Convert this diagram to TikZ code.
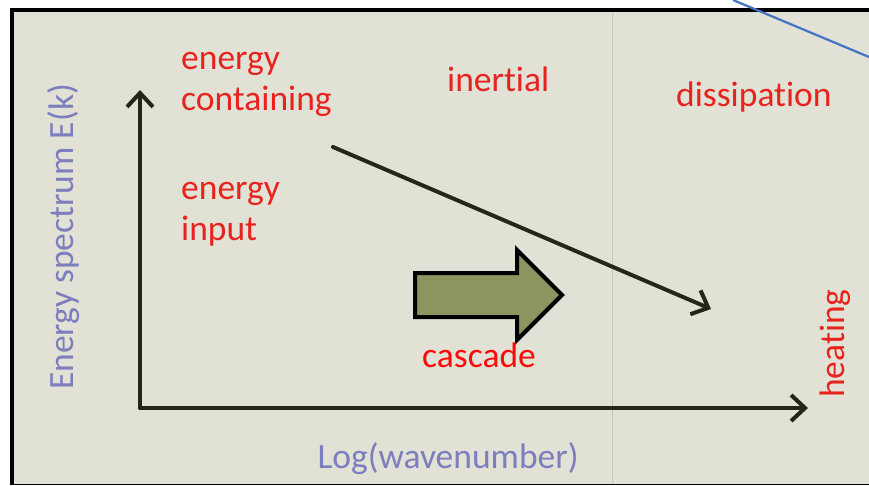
\documentclass[tikz,border=0pt]{standalone}
\usepackage{fontspec}
\setmainfont[Ligatures=NoCommon]{Carlito}
\usetikzlibrary{arrows.meta}
\definecolor{bgbeige}{HTML}{E1E1D5}
\definecolor{axisdark}{HTML}{25251A}
\definecolor{lblred}{HTML}{E8231E}
\definecolor{lblbright}{HTML}{FF0A0A}
\definecolor{lblblue}{HTML}{7C7EBE}
\definecolor{olive}{HTML}{8E9460}
\definecolor{sepline}{HTML}{C9C9B2}
\definecolor{bluel}{HTML}{4472C4}
\tikzset{
  lbl/.style={text=lblred, font=\fontsize{35.5}{41}\selectfont, inner sep=0pt, align=left},
  axlbl/.style={text=lblblue, font=\fontsize{35.5}{41}\selectfont, inner sep=0pt},
  axisline/.style={draw=axisdark, line width=4pt, line cap=round, line join=round,
    -{Straight Barb[length=14pt,width=26pt,line width=4pt]}},
}
\begin{document}
\begin{tikzpicture}[x=1pt,y=-1pt]
\useasboundingbox (0,0) rectangle (869,485);
\fill[white] (0,0) rectangle (869,485);
\fill[bgbeige] (12,10) rectangle (869,485);
\draw[sepline, line width=0.8pt] (612,12) -- (612,485);
\draw[black, line width=4pt] (12,485) -- (12,10) -- (869,10);
\draw[black, line width=1pt] (12,484.5) -- (869,484.5);
\coordinate (b1) at (733,0);
\coordinate (b2) at (869,57);
\draw[bluel, line width=2.2pt] (b1) -- (b2);
% axes
\coordinate (origin) at (140,408);
\coordinate (ytop) at (140,90);
\coordinate (xend) at (808,408);
\draw[axisline] (origin) -- (ytop);
\draw[axisline] (origin) -- (xend);
% diagonal
\coordinate (d1) at (333,147);
\coordinate (d2) at (711,309);
\draw[axisline] (d1) -- (d2);
% block arrow
\draw[fill=olive, draw=black, line width=4pt, line join=miter]
  (415,273) -- (517,273) -- (517,250) -- (562,295) -- (517,340) -- (517,317) -- (415,317) -- cycle;
% labels
\node[lbl, anchor=base west] (ec) at (181,110) {energy\\containing};
\node[lbl, anchor=base west] (ei) at (181,240) {energy\\input};
\node[lbl, anchor=base west] (in) at (447,91) {inertial};
\node[lbl, anchor=base west] (di) at (676,106) {dissipation};
\node[lbl, text=lblbright, anchor=base west] (ca) at (422,367) {cascade};
\node[lbl, rotate=90, anchor=base west] (he) at (844,398) {heating};
\node[axlbl, anchor=base] (xl) at (448,468) {Log(wavenumber)};
\node[axlbl, rotate=90, anchor=base] (yl) at (73,237) {Energy spectrum E(k)};
\end{tikzpicture}
\end{document}
